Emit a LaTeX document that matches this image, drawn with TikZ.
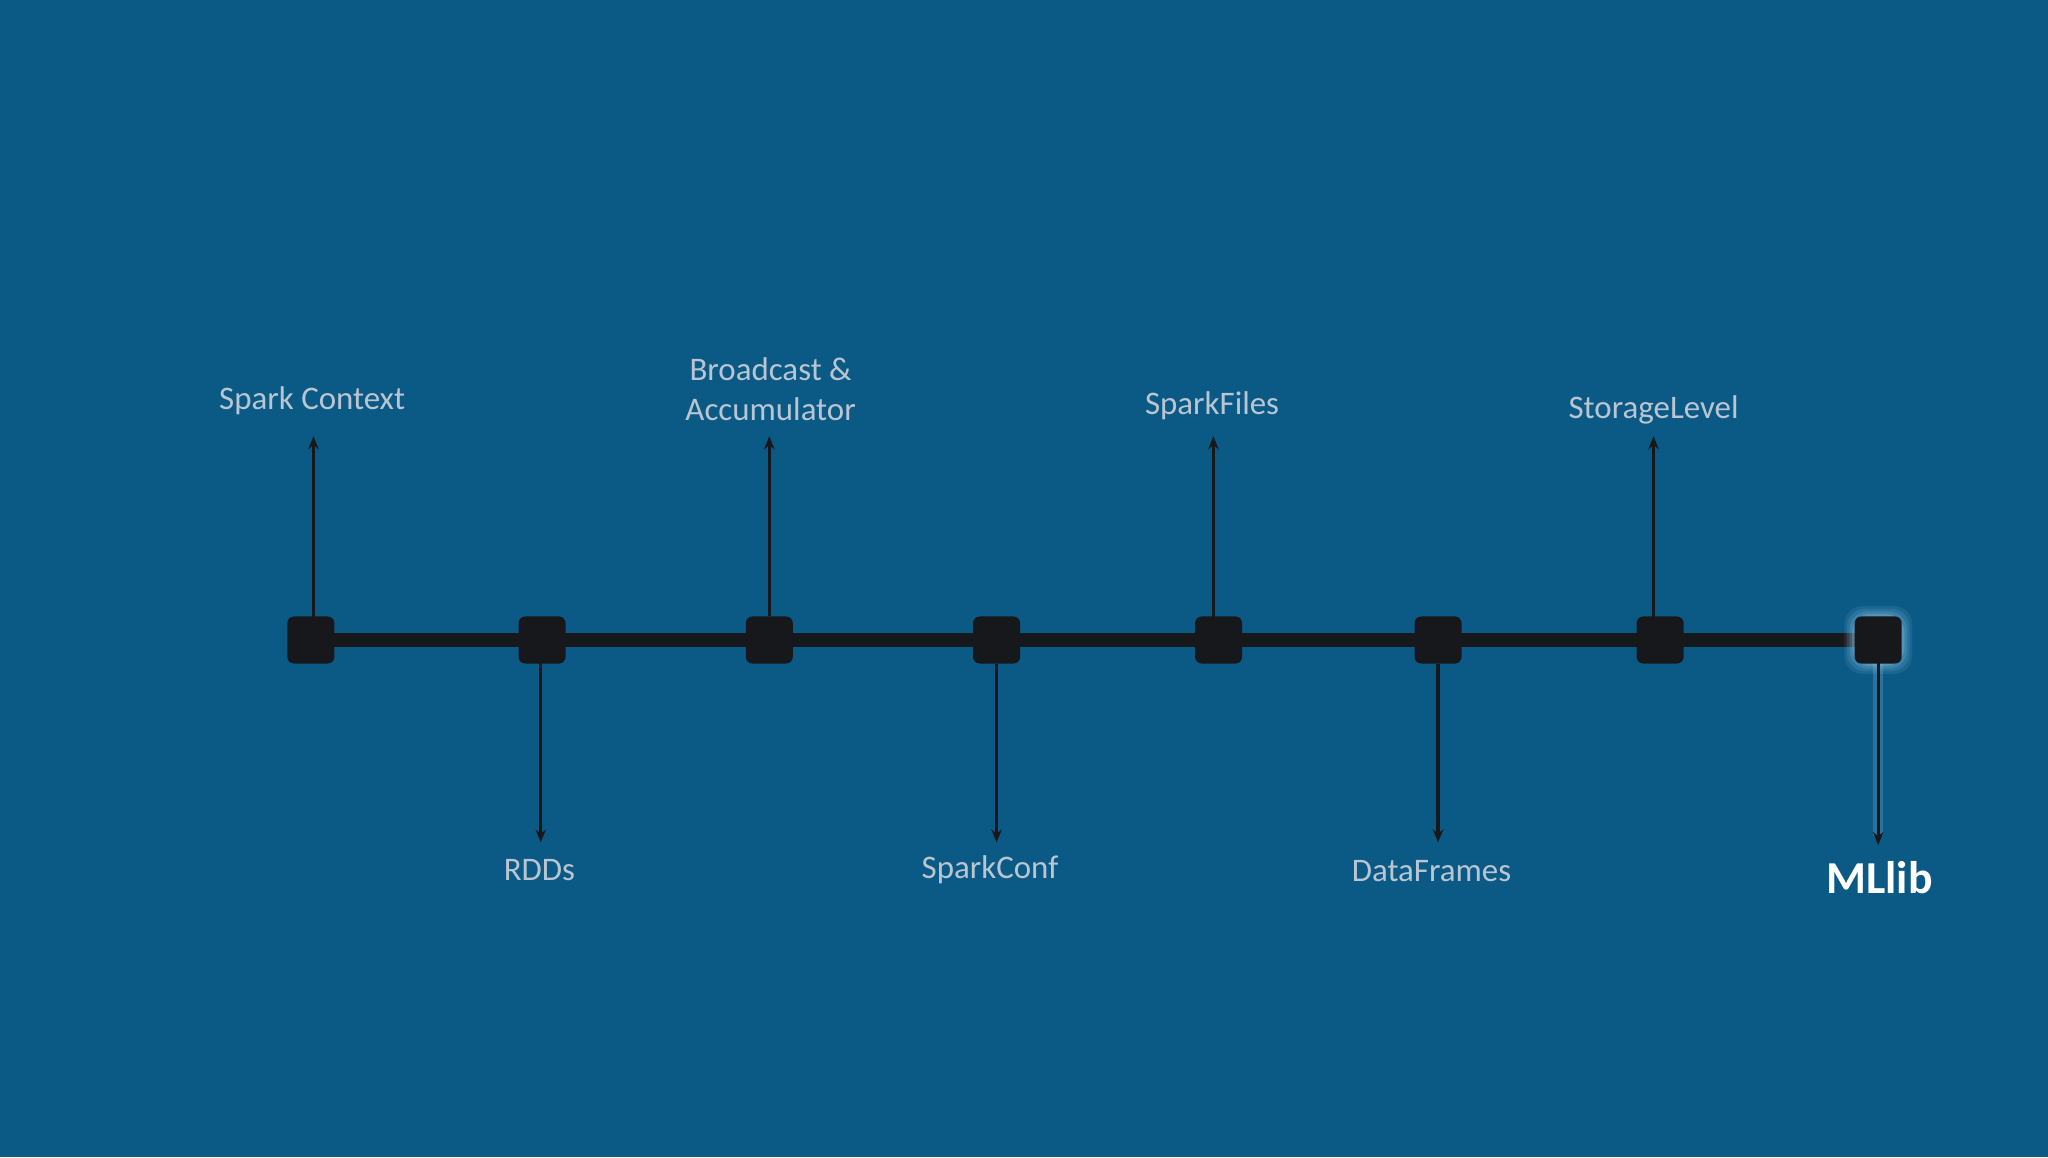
\documentclass[tikz,border=0pt]{standalone}
\usepackage{fontspec}
\setmainfont{Carlito}
\usetikzlibrary{arrows.meta}
\definecolor{bg}{RGB}{11,90,134}
\definecolor{blk}{RGB}{22,24,28}
\definecolor{lbl}{RGB}{185,198,210}
\definecolor{glow}{RGB}{140,190,225}
\begin{document}
\begin{tikzpicture}[x=0.5pt,y=-0.5pt,
  sq/.style={fill=blk,minimum size=18pt,inner sep=0,rounded corners=2.5pt},
  arr/.style={draw=blk,line width=1.3pt,-{Stealth[length=5pt,width=4pt]}},
  lab/.style={text=lbl,font=\fontsize{12.6}{15.5}\selectfont,align=center}]
\fill[bg] (0,0) rectangle (1568,886);
\useasboundingbox (0,0) rectangle (1568,886);
\draw[blk,line width=5pt] (238,490) -- (1438,490);
\foreach \i/\o in {26/0.12,24/0.15,22/0.2,20/0.3}
  \fill[glow,opacity=\o,rounded corners=7pt] (1438-\i,490-\i) rectangle (1438+\i,490+\i);
\draw[glow,opacity=0.25,line width=4pt] (1438,500) -- (1438,640);
\foreach \n/\x in {a/238,b/415,c/589,d/763,e/933,f/1101,g/1271,h/1438}
  \node[sq] (\n) at (\x,490) {};
\coordinate (ua) at (240,334); \coordinate (uc) at (589,334);
\coordinate (ue) at (929,334); \coordinate (ug) at (1266,334);
\coordinate (db) at (414,645); \coordinate (dd) at (763,645);
\coordinate (df) at (1101,645); \coordinate (dh) at (1438,647);
\draw[arr] (240,473) -- (ua);
\draw[arr] (c.north) -- (uc);
\draw[arr] (929,473) -- (ue);
\draw[arr] (1266,473) -- (ug);
\draw[arr] (414,507) -- (db);
\draw[arr] (d.south) -- (dd);
\draw[arr] (f.south) -- (df);
\draw[arr] (h.center) -- (dh);
\node[lab] (la) at (239,307) {Spark Context};
\node[lab] (lc) at (590,298) {Broadcast \&\\Accumulator};
\node[lab] (le) at (928,311) {SparkFiles};
\node[lab] (lg) at (1266,314) {StorageLevel};
\node[lab] (lb) at (413,666) {RDDs};
\node[lab] (ld) at (758,666) {SparkConf};
\node[lab] (lf) at (1096,667) {DataFrames};
\node[text=white,font=\fontsize{17.5}{20}\selectfont\bfseries] (lh) at (1439,672) {MLlib};
\end{tikzpicture}
\end{document}
